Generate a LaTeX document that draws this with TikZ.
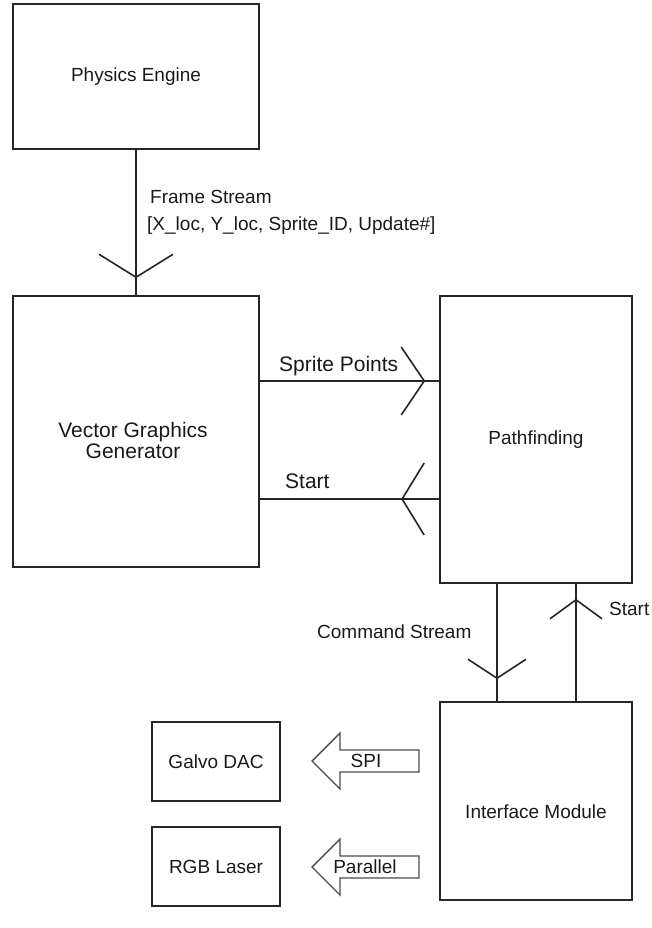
\documentclass[tikz,border=0pt]{standalone}
\usepackage{fontspec}
\setmainfont{Liberation Sans}
\usetikzlibrary{arrows.meta,decorations.markings}
\begin{document}
\begin{tikzpicture}[x=1pt,y=-1pt,
  box/.style={draw=black!85, line width=1.6pt, inner sep=0pt},
  lbl/.style={inner sep=0pt, text=black!90, font=\fontsize{19}{21}\selectfont},
  biglbl/.style={inner sep=0pt, text=black!90, font=\fontsize{21}{21}\selectfont},
  conn/.style={draw=black!85, line width=1.6pt},
  barb/.style n args={3}{postaction={decorate}, decoration={markings, mark=at position #1 with {\arrow{Straight Barb[length=#2, width=#3, line width=1.6pt]}}}},
  hollow/.style={draw=black!70, line width=1.4pt, fill=white}
]
\useasboundingbox (0,0) rectangle (652,928);

% boxes
\node[box, lbl, minimum width=246pt, minimum height=145pt] (pe) at (136,76.5) {Physics Engine};
\node[box, minimum width=246pt, minimum height=271pt] (vgg) at (136,431.5) {};
\node[biglbl, align=center, anchor=base] (vggt) at (133,458) {Vector Graphics\\Generator};
\node[box, lbl, minimum width=192pt, minimum height=287pt] (pf) at (536,439.5) {Pathfinding};
\node[box, minimum width=192pt, minimum height=198pt] (im) at (536,801) {};
\node[lbl] (imt) at (536,812) {Interface Module};
\node[box, lbl, minimum width=128pt, minimum height=79pt] (gd) at (216,761.5) {Galvo DAC};
\node[box, lbl, minimum width=128pt, minimum height=79pt] (rgb) at (216,866.5) {RGB Laser};

% connectors
\draw[conn, barb={-17pt}{23pt}{74pt}] (pe.south) -- (vgg.north);
\coordinate (spL) at ([yshift=50.5pt]vgg.east);
\draw[conn, barb={-14pt}{23pt}{68pt}] (spL) -- (spL -| pf.west);
\coordinate (stL) at ([yshift=-67.5pt]vgg.east);
\draw[conn, barb={38pt}{22pt}{72pt}] (stL -| pf.west) -- (stL);
\coordinate (csT) at ([xshift=-39pt]pf.south);
\draw[conn, barb={-22pt}{19pt}{58pt}] (csT) -- (csT |- im.north);
\coordinate (suT) at ([xshift=40pt]pf.south);
\draw[conn, barb={-15pt}{19pt}{52pt}] (suT |- im.north) -- (suT);

% connector labels
\node[lbl, anchor=base west] (fs) at (150,204) {Frame Stream};
\node[lbl, anchor=base west] (fsd) at (147,230) {[X\_loc, Y\_loc, Sprite\_ID, Update\#]};
\node[biglbl, anchor=base west] (spt) at (279,371) {Sprite Points};
\node[biglbl, anchor=base west] (stt) at (285,488) {Start};
\node[lbl, anchor=base west] (cst) at (317,638) {Command Stream};
\node[lbl, anchor=base west] (sut) at (609,615) {Start};

% hollow arrows
\draw[hollow] (312,761) -- ++(28,-28) -- ++(0,17) -- ++(79,0) -- ++(0,22) -- ++(-79,0) -- ++(0,17) -- cycle;
\node[lbl] (spi) at (366,761) {SPI};
\draw[hollow] (312,867) -- ++(28,-28) -- ++(0,17) -- ++(79,0) -- ++(0,22) -- ++(-79,0) -- ++(0,17) -- cycle;
\node[lbl] (par) at (365,867) {Parallel};
\end{tikzpicture}
\end{document}
